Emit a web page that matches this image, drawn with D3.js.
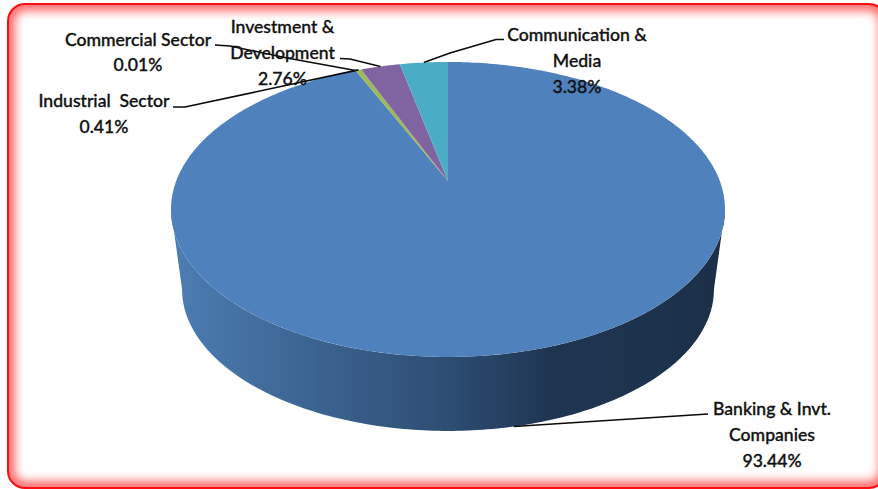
<!DOCTYPE html>
<html>
<head>
<meta charset="utf-8">
<script src="https://cdn.jsdelivr.net/npm/d3@7"></script>
<style>
  html, body { margin: 0; padding: 0; background: #fff; }
  svg { display: block; }
  text { font-family: Lato, "Open Sans", sans-serif; fill: #111; }
</style>
</head>
<body>
<div id="chart"></div>
<script>
// Sector shares of the market, clockwise from twelve o'clock
const categories = ["Banking & Invt. Companies", "Commercial Sector", "Industrial  Sector", "Investment & Development", "Communication & Media"];
const shares = [93.44, 0.01, 0.41, 2.76, 3.38];
const sliceColors = ["#4f81bd", "#c0504d", "#9bbb59", "#8064a2", "#4bacc6"];
const labelLines = [
  ["Banking & Invt.", "Companies"],
  ["Commercial Sector"],
  ["Industrial  Sector"],
  ["Investment &", "Development"],
  ["Communication &", "Media"]
];

const width = 878, height = 489;

// Perspective disc: apex position, radii and foreshortening of the top face
const disc = { cx: 448, apexY: 181, a: 271.8, b: 142, k: 0.193 };
// The lower rim sits deeper in the view, so it is a little smaller
const lowerRim = { apexY: 262, scale: 0.96 };

function project(theta, rim) {
  const u = Math.sin(theta), v = Math.cos(theta), w = 1 + disc.k * v;
  const s = rim ? rim.scale : 1, y0 = rim ? rim.apexY : disc.apexY;
  return [disc.cx + s * disc.a * u / w, y0 - s * disc.b * v / w];
}

const svg = d3.select("#chart").append("svg").attr("width", width).attr("height", height);
const defs = svg.append("defs");

// Frame: white panel, soft red inner glow, crisp red outline
const frame = { x: 8, y: 4, w: 878, h: 484, r: 17 };
defs.append("clipPath").attr("id", "panel").append("rect")
  .attr("x", frame.x).attr("y", frame.y).attr("width", frame.w).attr("height", frame.h).attr("rx", frame.r);
defs.append("filter").attr("id", "glow").attr("x", "-5%").attr("y", "-10%").attr("width", "110%").attr("height", "120%")
  .append("feGaussianBlur").attr("stdDeviation", 5);

svg.append("rect").attr("width", width).attr("height", height).attr("fill", "#fff");
svg.append("g").attr("clip-path", "url(#panel)").append("rect")
  .attr("x", frame.x).attr("y", frame.y).attr("width", frame.w).attr("height", frame.h).attr("rx", frame.r)
  .attr("fill", "none").attr("stroke", "#ff6a6a").attr("stroke-width", 14).attr("filter", "url(#glow)");
svg.append("rect")
  .attr("x", frame.x).attr("y", frame.y).attr("width", frame.w).attr("height", frame.h).attr("rx", frame.r)
  .attr("fill", "none").attr("stroke", "#fb0d12").attr("stroke-width", 2);

// Slice angles
const pie = d3.pie().sort(null).value(d => d)(shares);

// Side wall shading runs left to right
const wallShade = defs.append("linearGradient").attr("id", "wallShade")
  .attr("gradientUnits", "userSpaceOnUse").attr("x1", 171).attr("x2", 725).attr("y1", 0).attr("y2", 0);
[[0, "#4c7db3"], [0.24, "#3d6593"], [0.5, "#2d4d73"], [0.68, "#1f3653"], [1, "#1b2f47"]]
  .forEach(([o, c]) => wallShade.append("stop").attr("offset", o).attr("stop-color", c));

// Wall spans the two tangent points of the rim
const tangent = Math.acos(-disc.k);
const wallAngles = d3.range(0, 181).map(i => tangent + (2 * Math.PI - 2 * tangent) * i / 180);
const wallPoints = wallAngles.map(t => project(t))
  .concat(wallAngles.slice().reverse().map(t => project(t, lowerRim)));
svg.append("path").attr("d", d3.line()(wallPoints) + "Z").attr("fill", "url(#wallShade)");

// Top face: each slice runs from the apex out along the projected rim
svg.append("g").selectAll("path").data(pie).join("path")
  .attr("d", d => {
    const steps = Math.max(2, Math.ceil((d.endAngle - d.startAngle) * 60));
    const rim = d3.range(steps + 1).map(i => project(d.startAngle + (d.endAngle - d.startAngle) * i / steps));
    return d3.line()([[disc.cx, disc.apexY], ...rim]) + "Z";
  })
  .attr("fill", (d, i) => sliceColors[i]);

// Label anchor points, elbow ends and text blocks
const placement = [
  { rim: lowerRim, elbow: [[708, 414]], x: 772, y: 415 },
  { rim: null, elbow: [[287, 58], [230, 46], [215, 45]], x: 138, y: 45.5 },
  { rim: null, elbow: [[185, 107], [173, 107]], x: 104, y: 107 },
  { rim: null, elbow: [[350, 59], [340, 58.5]], x: 282.5, y: 33 },
  { rim: null, elbow: [[450, 53], [496, 39.5], [504, 39.5]], x: 577, y: 41 }
];
const lineGap = 25.8;

const labels = svg.append("g").selectAll("g").data(pie).join("g");

labels.append("text")
  .attr("text-anchor", "middle")
  .attr("font-size", 17.6)
  .attr("font-weight", 500)
  .attr("stroke", "#111").attr("stroke-width", 0.35)
  .attr("xml:space", "preserve")
  .style("white-space", "pre")
  .each(function (d, i) {
    const lines = labelLines[i].concat(d3.format(".2f")(d.data) + "%");
    d3.select(this).selectAll("tspan").data(lines).join("tspan")
      .attr("x", placement[i].x)
      .attr("y", (l, j) => placement[i].y + j * lineGap)
      .text(l => l);
  });

labels.append("path")
  .attr("fill", "none").attr("stroke", "#0a0a0a").attr("stroke-width", 1.6)
  .attr("d", (d, i) => {
    const mid = (d.startAngle + d.endAngle) / 2;
    return d3.line()([project(mid, placement[i].rim), ...placement[i].elbow]);
  });
</script>
</body>
</html>
